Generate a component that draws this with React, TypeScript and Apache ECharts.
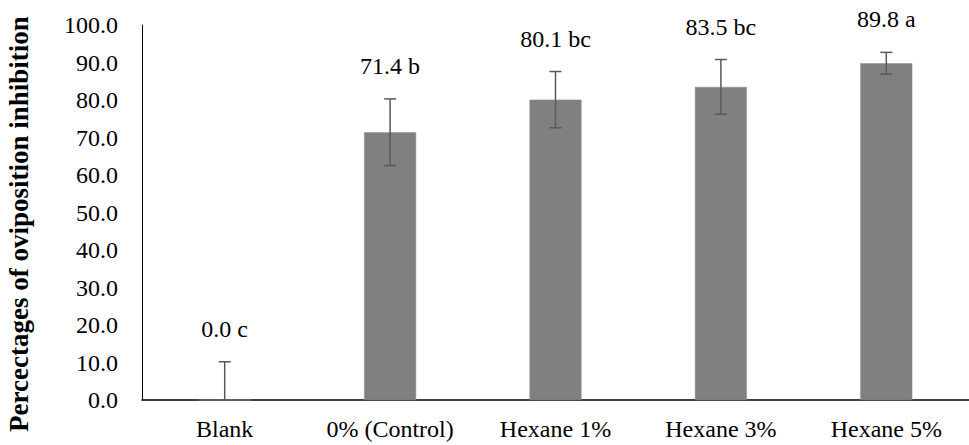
import React, { useEffect, useRef } from "react";
import * as echarts from "echarts";

const categories = ["Blank", "0% (Control)", "Hexane 1%", "Hexane 3%", "Hexane 5%"];
const means = [0.0, 71.4, 80.1, 83.5, 89.8];
const errors = [10.2, 8.9, 7.5, 7.3, 2.9];
const letters = ["c", "b", "bc", "bc", "a"];
const yTicks = { min: 0, max: 100, interval: 10 };
const yTitle = "Percectages of oviposition inhibition";

const FONT = "Liberation Serif";

export default function App() {
  const ref = useRef<HTMLDivElement>(null);
  useEffect(() => {
    if (!ref.current) return;
    const chart = echarts.init(ref.current, undefined, { renderer: "svg" });
    const errData = means.map((m, i) => [i, m, errors[i]]);
    chart.setOption({
      animation: false,
      backgroundColor: "#ffffff",
      textStyle: { fontFamily: FONT },
      grid: { left: 142, top: 25, bottom: 45, width: 839 },
      graphic: [
        {
          type: "text",
          x: 19,
          y: 224,
          rotation: Math.PI / 2,
          style: {
            text: yTitle,
            fill: "#000",
            fontFamily: FONT,
            fontSize: 27,
            fontWeight: "bold",
            align: "center",
            verticalAlign: "middle",
          },
        },
      ],
      xAxis: {
        type: "category",
        data: categories,
        axisLine: { lineStyle: { color: "#000", width: 1.5 } },
        axisTick: { show: false },
        axisLabel: { color: "#000", fontFamily: FONT, fontSize: 24, margin: 17, interval: 0 },
        splitLine: { show: false },
      },
      yAxis: {
        type: "value",
        min: yTicks.min,
        max: yTicks.max,
        interval: yTicks.interval,
        axisLine: { show: true, lineStyle: { color: "#000", width: 1 } },
        axisTick: { show: false },
        axisLabel: {
          color: "#000",
          fontFamily: FONT,
          fontSize: 24,
          margin: 24,
          formatter: (v: number) => v.toFixed(1),
        },
        splitLine: { show: false },
      },
      series: [
        {
          type: "bar",
          data: means,
          barWidth: 52,
          itemStyle: { color: "#808080", borderColor: "#8c8c8c", borderWidth: 0.5 },
          z: 2,
        },
        {
          type: "custom",
          data: errData,
          clip: false,
          z: 3,
          renderItem: (params: any, api: any) => {
            const i = api.value(0);
            const m = api.value(1);
            const e = api.value(2);
            const top = api.coord([i, m + e]);
            const bot = api.coord([i, Math.max(m - e, 0)]);
            const cap = 6;
            const style = { stroke: "#595959", lineWidth: 1.5 };
            return {
              type: "group",
              children: [
                { type: "line", shape: { x1: top[0], y1: top[1], x2: bot[0], y2: bot[1] }, style },
                { type: "line", shape: { x1: top[0] - cap, y1: top[1], x2: top[0] + cap, y2: top[1] }, style },
                ...(m - e > 0
                  ? [{ type: "line", shape: { x1: bot[0] - cap, y1: bot[1], x2: bot[0] + cap, y2: bot[1] }, style }]
                  : []),
                {
                  type: "text",
                  x: top[0],
                  y: top[1] - 33,
                  style: {
                    text: `${means[i].toFixed(1)} ${letters[i]}`,
                    fill: "#000",
                    fontFamily: FONT,
                    fontSize: 24,
                    align: "center",
                    verticalAlign: "middle",
                  },
                },
              ],
            };
          },
        },
      ],
    });
    return () => chart.dispose();
  }, []);
  return (
    <div
      ref={ref}
      style={{ position: "fixed", left: 0, top: 0, width: 969, height: 445 }}
    />
  );
}
